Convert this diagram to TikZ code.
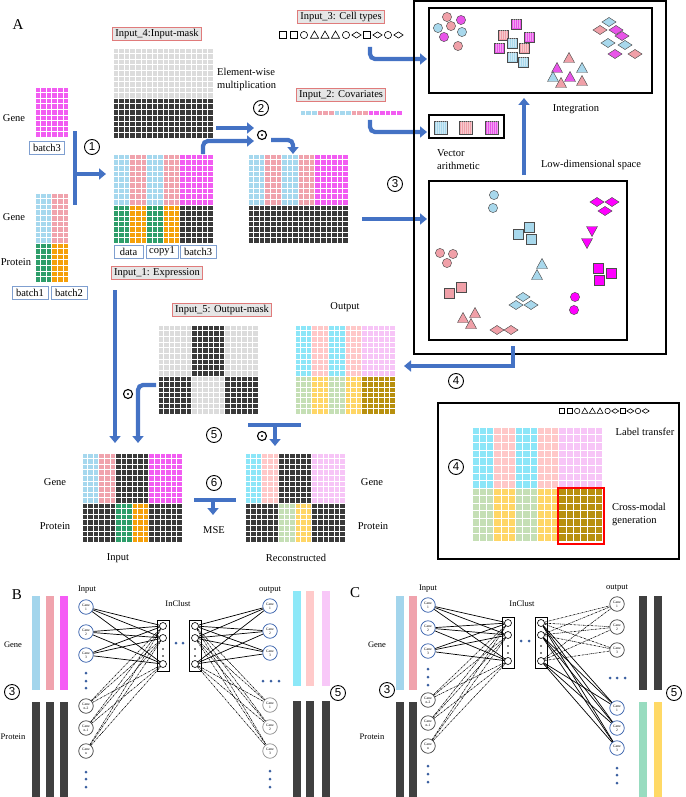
\documentclass[tikz,border=0pt]{standalone}
\usepackage{fontspec}
\setmainfont{Liberation Serif}
\setsansfont{Liberation Sans}
\usetikzlibrary{arrows.meta}

\definecolor{cB}{HTML}{A6D8EE}
\definecolor{cP}{HTML}{F0A3AD}
\definecolor{cM}{HTML}{F25CF2}
\definecolor{cG}{HTML}{2E9E6A}
\definecolor{cO}{HTML}{F5A00A}
\definecolor{cD}{HTML}{3A3A3A}
\definecolor{cL}{HTML}{DCDCDC}
\definecolor{oC}{HTML}{8CE6F8}
\definecolor{oP}{HTML}{FFC8C8}
\definecolor{oV}{HTML}{F7C5F7}
\definecolor{oG}{HTML}{C5DFB5}
\definecolor{oY}{HTML}{FFD666}
\definecolor{oK}{HTML}{B8900E}
\definecolor{arr}{HTML}{4472C4}
\definecolor{lblfill}{HTML}{E6E6E6}
\definecolor{lbldraw}{HTML}{E07B7B}
\definecolor{btdraw}{HTML}{7F9FD0}
\definecolor{nodeblue}{HTML}{2F5AA8}
\definecolor{dotblue}{HTML}{3A5FA0}
\definecolor{scP}{HTML}{F0A0A8}
\definecolor{scB}{HTML}{A8D8EC}
\definecolor{scM}{HTML}{FF00FF}
\definecolor{scM2}{HTML}{E855E8}
\definecolor{barB}{HTML}{A3D5EC}
\definecolor{barP}{HTML}{F0A3AD}
\definecolor{barM}{HTML}{F55CF5}
\definecolor{barD}{HTML}{404040}
\definecolor{barC}{HTML}{8CE8F8}
\definecolor{barLP}{HTML}{FFCACA}
\definecolor{barV}{HTML}{F8C8F8}
\definecolor{barG}{HTML}{98DCC0}
\definecolor{barY}{HTML}{FFD966}

\newcommand{\fsA}{\fontsize{10.5}{13}\selectfont}
\newcommand{\fsB}{\fontsize{8.5}{10}\selectfont}

\tikzset{
 gridl/.style={white, line width=0.5},
 bigarrow/.style={arr, line width=4.2, -{Triangle[length=7,width=11]}},
 bigbar/.style={arr, line width=4.2},
 lbl/.style={draw=lbldraw, fill=lblfill, line width=0.7, inner xsep=2.5, inner ysep=1.8, font=\fsA},
 bt/.style={draw=btdraw, fill=white, line width=0.8, inner xsep=2, inner ysep=0, minimum height=13, font=\fsA},
 txt/.style={font=\fsA, inner sep=0},
 txtb/.style={font=\fsB, inner sep=0},
 cnum/.style={circle, draw, line width=0.9, minimum size=15, inner sep=0, font=\sffamily\fontsize{11.5}{11.5}\selectfont},
 odot/.style={circle, draw, line width=1.1, minimum size=9, inner sep=0, path picture={\fill (path picture bounding box.center) circle (1.2);}},
 bx/.style={draw, line width=1.6},
 shp/.style={draw=black!70, line width=0.45},
 sym/.style={draw=black, line width=0.6},
 gn/.style={circle, draw=nodeblue, line width=0.7, minimum size=14.5, inner sep=0, align=center, font=\fontsize{3.6}{3.9}\selectfont},
 gk/.style={gn, draw=black!75},
 gg/.style={gn, draw=black!45},
 cl/.style={circle, draw, line width=0.6, minimum size=7, inner sep=0},
 sl/.style={line width=0.7},
 dl/.style={line width=0.55, dash pattern=on 2pt off 0.8pt on 0.6pt off 0.8pt},
}

% block with white grid: x,y,w,h,color,nx,ny
\newcommand{\myblk}[7]{%
 \fill[#5] (#1,#2) rectangle (#1+#3,#2+#4);
 \foreach \kk in {0,...,#6}{\draw[gridl] (#1+\kk*#3/#6,#2) -- (#1+\kk*#3/#6,#2+#4);}
 \foreach \kk in {0,...,#7}{\draw[gridl] (#1,#2+\kk*#4/#7) -- (#1+#3,#2+\kk*#4/#7);}
}
\def\cw{16.667}
\newcommand{\colrow}[9]{%
 \myblk{#1}{#2}{\cw}{#3}{#5}{3}{#4}%
 \myblk{#1+\cw}{#2}{\cw}{#3}{#6}{3}{#4}%
 \myblk{#1+2*\cw}{#2}{\cw}{#3}{#7}{3}{#4}%
 \myblk{#1+3*\cw}{#2}{\cw}{#3}{#8}{3}{#4}%
 \myblk{#1+4*\cw}{#2}{2*\cw}{#3}{#9}{6}{#4}}

% outline symbols
\newcommand{\msq}[3]{\draw[sym] (#1-#3,#2-#3) rectangle (#1+#3,#2+#3);}
\newcommand{\mcir}[3]{\draw[sym] (#1,#2) circle (#3);}
\newcommand{\mtri}[3]{\draw[sym] (#1,#2-#3*1.1) -- (#1+#3*1.15,#2+#3*0.9) -- (#1-#3*1.15,#2+#3*0.9) -- cycle;}
\newcommand{\mdia}[3]{\draw[sym] (#1-#3*1.3,#2) -- (#1,#2-#3*0.85) -- (#1+#3*1.3,#2) -- (#1,#2+#3*0.85) -- cycle;}
\newcommand{\symrow}[4]{%
 \msq{#1}{#2}{#4}\msq{#1+#3}{#2}{#4}\mcir{#1+2*#3}{#2}{#4}\mtri{#1+3*#3}{#2}{#4}%
 \mtri{#1+4*#3}{#2}{#4}\mtri{#1+5*#3}{#2}{#4}\mcir{#1+6*#3}{#2}{#4}\mdia{#1+7*#3}{#2}{#4}%
 \msq{#1+8*#3}{#2}{#4}\mdia{#1+9*#3}{#2}{#4}\mcir{#1+10*#3}{#2}{#4}\mdia{#1+11*#3}{#2}{#4}}

% scatter shapes
\newcommand{\myci}[3]{\draw[shp,fill=#3] (#1,#2) circle (4.6);}
\newcommand{\mysq}[3]{\draw[shp,fill=#3] (#1-5,#2-5) rectangle (#1+5,#2+5);}
\newcommand{\mysqs}[3]{\draw[shp,fill=#3] (#1-5,#2-5) rectangle (#1+5,#2+5);
 \foreach \ss in {-3,-1,1,3}{\draw[white,opacity=0.45,line width=0.5] (#1+\ss,#2-4.5) -- (#1+\ss,#2+4.5);}}
\newcommand{\mytu}[3]{\draw[shp,fill=#3] (#1,#2-5.5) -- (#1+5.5,#2+4.5) -- (#1-5.5,#2+4.5) -- cycle;}
\newcommand{\mytd}[3]{\draw[shp,fill=#3] (#1,#2+5.5) -- (#1+5.5,#2-4.5) -- (#1-5.5,#2-4.5) -- cycle;}
\newcommand{\mydm}[3]{\draw[shp,fill=#3] (#1-7,#2) -- (#1,#2-4.5) -- (#1+7,#2) -- (#1,#2+4.5) -- cycle;}

\begin{document}
\begin{tikzpicture}[x=1pt,y=-1pt]
\useasboundingbox (0,0) rectangle (685,797);

%================ PANEL A ================
\node[font=\fontsize{15}{15}\selectfont, inner sep=0] (lA) at (18,25) {A};

% left raw inputs
\node[txt] (g1) at (14,118) {Gene};
\myblk{35}{87}{33.3}{50}{cM}{6}{9}
\node[bt, minimum width=35] (b3l) at (47,148) {batch3};
\node[txt] (g2) at (14,217) {Gene};
\node[txt] (p2) at (16,262) {Protein};
\myblk{35}{193}{16.65}{50}{cB}{3}{9}
\myblk{51.65}{193}{16.65}{50}{cP}{3}{9}
\myblk{35}{243}{16.65}{39}{cG}{3}{7}
\myblk{51.65}{243}{16.65}{39}{cO}{3}{7}
\node[bt, minimum width=36] (b1l) at (30,293) {batch1};
\node[bt, minimum width=36] (b2l) at (69,293) {batch2};

% step 1
\draw[bigbar] (75,131) -- (75,205);
\draw[bigarrow] (75,174) -- (106,174);
\node[cnum] (n1) at (92,147) {1};

% input mask
\node[lbl] (in4) at (157,34) {Input\_4:Input-mask};
\myblk{113}{48}{100}{50}{cL}{18}{9}
\myblk{113}{98}{100}{40}{cD}{18}{7}
\node[txt, align=left, anchor=west] (ew) at (217,79) {Element-wise\\multiplication};

% combined input matrix
\colrow{113}{154}{51}{9}{cB}{cP}{cB}{cP}{cM}
\colrow{113}{205}{38}{7}{cG}{cO}{cG}{cO}{cD}
\node[bt, minimum width=29] (bd) at (128.5,251.5) {data};
\node[bt, minimum width=32] (bc) at (162,251.5) {copy1};
\node[bt, minimum width=36] (bb) at (198,251.5) {batch3};
\node[lbl] (in1) at (157,273) {Input\_1: Expression};

% step 2
\node[cnum] (n2) at (261,108) {2};
\node[odot] (od1) at (262,135) {};
\draw[bigarrow] (216,128) -- (254,128);
\draw[bigarrow, rounded corners=5] (203,154) -- (203,141) -- (254,141);
\draw[bigarrow, rounded corners=5] (271,140) -- (293,140) -- (293,154);

% masked matrix
\colrow{248}{154}{51}{9}{cB}{cP}{cB}{cP}{cM}
\colrow{248}{205}{38}{7}{cD}{cD}{cD}{cD}{cD}

% step 3
\node[cnum] (n3) at (395,184) {3};
\draw[bigarrow] (362,219) -- (427,219);

% covariates and cell types
\node[lbl] (in3) at (341,17) {Input\_3: Cell types};
\symrow{283}{35}{10.5}{3.6}
\node[lbl] (in2) at (341,95) {Input\_2: Covariates};
\myblk{300}{110}{17}{5}{cB}{3}{1}
\myblk{317}{110}{17}{5}{cP}{3}{1}
\myblk{334}{110}{17}{5}{cB}{3}{1}
\myblk{351}{110}{17}{5}{cP}{3}{1}
\myblk{368}{110}{34}{5}{cM}{6}{1}
\draw[bigarrow, rounded corners=5] (370,47) -- (370,59) -- (427,59);
\draw[bigarrow, rounded corners=5] (370,120) -- (370,132) -- (427,132);

% right big box
\draw[bx] (414,1) rectangle (666,354);
\draw[bx] (429,8) rectangle (652,93);
\draw[bx] (429,115) rectangle (504,138);
\draw[bx] (429,181) rectangle (627,340);
\node[txt] (integ) at (576,109) {Integration};
\node[txt, align=left, anchor=west] (va) at (437,160) {Vector\\arithmetic};
\node[txt] (lds) at (591,165) {Low-dimensional space};
\draw[bigarrow] (524,175) -- (524,98);

% vector arithmetic squares
\foreach \xx/\cc in {434/scB,459/scP,485/scM2}{%
 \draw[shp,fill=\cc] (\xx,121) rectangle (\xx+13,134);
 \foreach \s in {2,4,...,12}{\draw[white,opacity=0.45,line width=0.5] (\xx+\s,121.5) -- (\xx+\s,133.5);}}

% integration scatter
\myci{447}{17}{scP}\myci{461}{20}{scM2}\myci{438}{28}{scB}\myci{451}{26}{scP}
\myci{462}{32}{scB}\myci{444}{37}{scM2}\myci{458}{46}{scP}
\mysqs{516}{24}{scM2}\mysqs{503}{35}{scP}\mysqs{529}{37}{scM2}\mysqs{512}{43}{scB}
\mysqs{499}{48}{scM2}\mysqs{524}{48}{scP}\mysqs{512}{57}{scB}\mysqs{523}{62}{scB}
\mytu{569}{58}{scP}\mytu{557}{68}{scM2}\mytu{582}{68}{scB}\mytu{553}{77}{scB}
\mytu{570}{77}{scM2}\mytu{561}{83}{scP}\mytu{582}{81}{scP}
\mydm{609}{22}{scB}\mydm{600}{30}{scP}\mydm{616}{30}{scM2}\mydm{622}{36}{scM2}
\mydm{608}{43}{scB}\mydm{625}{45}{scB}\mydm{615}{54}{scM2}\mydm{635}{54}{scP}

% low-dimensional scatter
\myci{494}{195}{scB}\myci{493}{208}{scB}
\myci{440}{253}{scP}\myci{453}{254}{scP}\myci{447}{263}{scP}
\myci{575}{297}{scM}\myci{574}{310}{scM}
\mysq{529}{227}{scB}\mysq{518}{234}{scB}\mysq{531}{239}{scB}
\mysq{461}{287}{scP}\mysq{449}{293}{scP}
\mysq{598}{268}{scM}\mysq{611}{273}{scM}\mysq{599}{280}{scM}
\mytu{542}{264}{scB}\mytu{537}{275}{scB}
\mytu{475}{313}{scP}\mytu{463}{318}{scP}\mytu{471}{324}{scP}
\mytd{592}{231}{scM}\mytd{587}{243}{scM}
\mydm{597}{202}{scM}\mydm{612}{202}{scM}\mydm{605}{211}{scM}
\mydm{523}{297}{scB}\mydm{516}{305}{scB}\mydm{531}{305}{scB}
\mydm{497}{330}{scP}\mydm{511}{330}{scP}

% step 4 arrow
\draw[bigarrow] (513,346) -- (513,366) -- (404,366);
\node[cnum] (n4) at (456,381) {4};

% output
\node[txt] (outl) at (345,307) {Output};
\colrow{295}{325}{51}{9}{oC}{oP}{oC}{oP}{oV}
\colrow{295}{376}{38}{7}{oG}{oY}{oG}{oY}{oK}

% output mask
\node[lbl] (in5) at (222,310) {Input\_5: Output-mask};
\colrow{158}{325}{51}{9}{cL}{cL}{cD}{cD}{cL}
\colrow{158}{376}{38}{7}{cD}{cD}{cL}{cL}{cD}

% step 5 arrows
\draw[bigarrow] (115,290) -- (115,443);
\draw[bigarrow, rounded corners=5] (156,385) -- (138,385) -- (138,443);
\node[odot] (od2) at (128,394) {};
\node[cnum] (n5) at (214,435) {5};
\draw[bigbar] (248,425) -- (301,425);
\draw[bigarrow] (275,425) -- (275,446);
\node[odot] (od3) at (262,436) {};

% input (bottom)
\colrow{82}{453}{50}{9}{cB}{cP}{cD}{cD}{cM}
\colrow{82}{503}{39}{7}{cD}{cD}{cG}{cO}{cD}
\node[txt] (g3) at (55,482) {Gene};
\node[txt] (p3) at (55,526) {Protein};
\node[txt] (inl) at (118,558) {Input};

% step 6
\node[cnum] (n6) at (214,483) {6};
\draw[bigbar] (194,500) -- (236,500);
\draw[bigarrow] (213,500) -- (213,515);
\node[txt] (mse) at (214,530) {MSE};

% reconstructed
\colrow{245}{453}{50}{9}{oC}{oP}{cD}{cD}{oV}
\colrow{245}{503}{39}{7}{cD}{cD}{oG}{oY}{cD}
\node[txt] (g4) at (372,482) {Gene};
\node[txt] (p4) at (373,526) {Protein};
\node[txt] (recl) at (296,558) {Reconstructed};

% box 4
\draw[bx] (438,403) rectangle (679,559);
\symrow{562}{411}{7.6}{2.7}
\node[txt] (lt) at (645,432) {Label transfer};
\node[cnum] (n4b) at (456,467) {4};
\def\cw{21.67}
\colrow{472}{427}{61}{8}{oC}{oP}{oC}{oP}{oV}
\colrow{472}{488}{53}{7}{oG}{oY}{oG}{oY}{oK}
\draw[red, line width=1.8] (558,488) rectangle (604,544);
\node[txt, align=left, anchor=west] (cmg) at (612,514) {Cross-modal\\generation};

%================ PANEL B ================
\node[font=\fontsize{15}{15}\selectfont, inner sep=0] (lB) at (17,595) {B};
\fill[barB] (32,596) rectangle (40,690);
\fill[barP] (46,596) rectangle (54,690);
\fill[barM] (60,596) rectangle (68,690);
\fill[barD] (32,702) rectangle (40,797);
\fill[barD] (46,702) rectangle (54,797);
\fill[barD] (60,702) rectangle (68,797);
\node[txtb] (gB) at (13,645) {Gene};
\node[txtb] (pB) at (13,737) {Protein};
\node[cnum] (n3B) at (12,692) {3};
\node[txtb] (inB) at (87,590) {Input};

\node[gn] (bi1) at (86,607) {Gene\\1};
\node[gn] (bi2) at (86,632) {Gene\\2};
\node[gn] (bi3) at (86,655) {Gene\\3};
\node[gk] (bi4) at (86,706) {Gene\\n-2};
\node[gk] (bi5) at (86,728) {Gene\\n-1};
\node[gk] (bi6) at (86,751) {Gene\\n};
\foreach \yy in {673,681,688,772,779,787}{\fill[dotblue] (86,\yy) circle (1.5);}

\node[txtb] (icB) at (178,604) {InClust};
\draw[line width=0.7] (157,620) rectangle (169,671);
\draw[line width=0.7] (189,620) rectangle (201,671);
\node[cl] (bc1a) at (163,626) {};
\node[cl] (bc1b) at (163,638) {};
\node[cl] (bc1c) at (163,664) {};
\node[cl] (bc2a) at (195,626) {};
\node[cl] (bc2b) at (195,638) {};
\node[cl] (bc2c) at (195,664) {};
\foreach \xx in {163,195}{\fill (\xx,649) circle (0.8); \fill (\xx,656) circle (0.8);}
\fill[dotblue] (176,643) circle (1.5);
\fill[dotblue] (183,643) circle (1.5);

\node[txtb] (outB) at (270,590) {output};
\node[gn] (bo1) at (270,606) {Gene\\1};
\node[gn] (bo2) at (270,631) {Gene\\2};
\node[gn] (bo3) at (270,653) {Gene\\3};
\node[gg] (bo4) at (270,705) {Gene\\1};
\node[gg] (bo5) at (270,727) {Gene\\2};
\node[gg] (bo6) at (270,751) {Gene\\3};
\foreach \xx in {263,271,279}{\fill[dotblue] (\xx,681) circle (1.5);}
\foreach \yy in {771,779,787}{\fill[dotblue] (270,\yy) circle (1.5);}

\foreach \a in {bi1,bi2,bi3}{\foreach \b in {bc1a,bc1b,bc1c}{\draw[sl] (\a) -- (\b);}}
\foreach \a in {bi4,bi5,bi6}{\foreach \b in {bc1a,bc1b,bc1c}{\draw[dl] (\a) -- (\b);}}
\foreach \a in {bc2a,bc2b,bc2c}{\foreach \b in {bo1,bo2,bo3}{\draw[sl] (\a) -- (\b);}}
\foreach \a in {bc2a,bc2b,bc2c}{\foreach \b in {bo4,bo5,bo6}{\draw[dl] (\a) -- (\b);}}

\fill[barC] (293,591) rectangle (301,686);
\fill[barLP] (306,591) rectangle (314,686);
\fill[barV] (322,591) rectangle (330,686);
\fill[barD] (293,701) rectangle (301,797);
\fill[barD] (306,701) rectangle (314,797);
\fill[barD] (322,701) rectangle (330,797);
\node[cnum] (n5B) at (338,693) {5};

%================ PANEL C ================
\node[font=\fontsize{15}{15}\selectfont, inner sep=0] (lC) at (355,593) {C};
\fill[barB] (396,596) rectangle (404,690);
\fill[barP] (409,596) rectangle (417,690);
\fill[barD] (396,702) rectangle (404,797);
\fill[barD] (409,702) rectangle (417,797);
\node[txtb] (gC) at (377,645) {Gene};
\node[txtb] (pC) at (372,737) {Protein};
\node[cnum] (n3C) at (387,690) {3};
\node[txtb] (inC) at (428,589) {Input};

\node[gn] (ci1) at (428,605) {Gene\\1};
\node[gn] (ci2) at (428,628) {Gene\\2};
\node[gn] (ci3) at (428,651) {Gene\\3};
\node[gk] (ci4) at (428,700) {Gene\\n-2};
\node[gk] (ci5) at (428,723) {Gene\\n-1};
\node[gk] (ci6) at (428,746) {Gene\\n};
\foreach \yy in {669,677,685,766,774,782}{\fill[dotblue] (428,\yy) circle (1.5);}

\node[txtb] (icC) at (522,604) {InClust};
\draw[line width=0.7] (502,617) rectangle (514,668);
\draw[line width=0.7] (535,617) rectangle (547,668);
\node[cl] (cc1a) at (508,623) {};
\node[cl] (cc1b) at (508,635) {};
\node[cl] (cc1c) at (508,661) {};
\node[cl] (cc2a) at (541,623) {};
\node[cl] (cc2b) at (541,635) {};
\node[cl] (cc2c) at (541,661) {};
\foreach \xx in {508,541}{\fill (\xx,646) circle (0.8); \fill (\xx,653) circle (0.8);}
\fill[dotblue] (521,641) circle (1.5);
\fill[dotblue] (529,641) circle (1.5);

\node[txtb] (outC) at (617,588) {output};
\node[gk] (co1) at (617,604) {Gene\\1};
\node[gk] (co2) at (617,627) {Gene\\2};
\node[gk] (co3) at (617,650) {Gene\\3};
\node[gn] (co4) at (617,708) {Gene\\1};
\node[gn] (co5) at (617,728) {Gene\\2};
\node[gn] (co6) at (617,748) {Gene\\3};
\foreach \xx in {610,617,625}{\fill[dotblue] (\xx,678) circle (1.5);}
\foreach \yy in {768,775,783}{\fill[dotblue] (617,\yy) circle (1.5);}

\foreach \a in {ci1,ci2,ci3}{\foreach \b in {cc1a,cc1b,cc1c}{\draw[sl] (\a) -- (\b);}}
\foreach \a in {ci4,ci5,ci6}{\foreach \b in {cc1a,cc1b,cc1c}{\draw[dl] (\a) -- (\b);}}
\foreach \a in {cc2a,cc2b,cc2c}{\foreach \b in {co1,co2,co3}{\draw[dl] (\a) -- (\b);}}
\foreach \a in {cc2a,cc2b,cc2c}{\foreach \b in {co4,co5,co6}{\draw[sl] (\a) -- (\b);}}

\fill[barD] (639,596) rectangle (647,690);
\fill[barD] (654,596) rectangle (662,690);
\fill[barG] (639,702) rectangle (647,797);
\fill[barY] (654,702) rectangle (662,797);
\node[cnum] (n5C) at (674,693) {5};

\end{tikzpicture}
\end{document}
